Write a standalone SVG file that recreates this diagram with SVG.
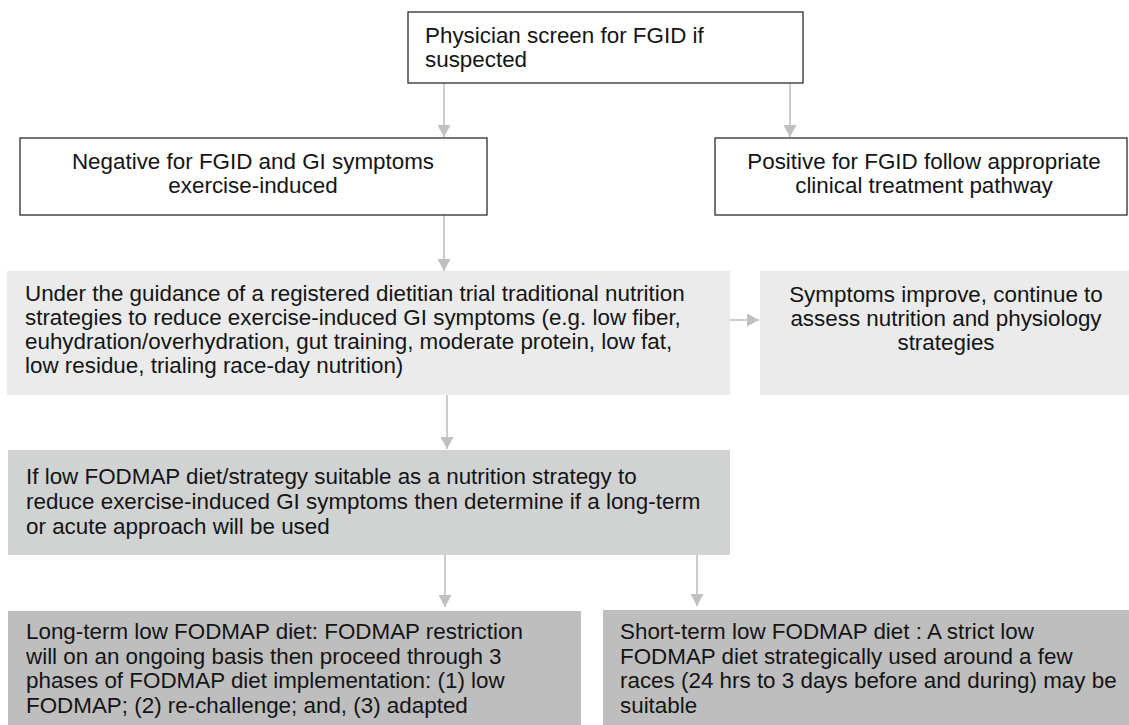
<svg xmlns="http://www.w3.org/2000/svg" width="1129" height="725" viewBox="0 0 1129 725">
<defs>
<style>
text{font-family:"Liberation Sans",Arial,sans-serif;font-size:22.4px;fill:#141414}
.c{text-anchor:middle}
.ob{fill:#fff;stroke:#2b2b2b;stroke-width:1.3}
.l1{fill:#ebebeb}
.l2{fill:#d1d2d2}
.l3{fill:#bebebe}
.ar{stroke:#c0c0c0;stroke-width:1.6;fill:none}
</style>
<marker id="ah" viewBox="0 0 12 13" refX="12" refY="6.5" markerWidth="12" markerHeight="13" markerUnits="userSpaceOnUse" orient="auto">
<path d="M0,0 L12,6.5 L0,13 Z" fill="#c0c0c0"/>
</marker>
</defs>
<g id="connectors">
<line class="ar" x1="444" y1="83" x2="444" y2="137" marker-end="url(#ah)"/>
<line class="ar" x1="790" y1="83" x2="790" y2="137" marker-end="url(#ah)"/>
<line class="ar" x1="444" y1="215" x2="444" y2="271" marker-end="url(#ah)"/>
<line class="ar" x1="730" y1="320" x2="759" y2="320" marker-end="url(#ah)"/>
<line class="ar" x1="447" y1="395" x2="447" y2="449" marker-end="url(#ah)"/>
<line class="ar" x1="445" y1="555" x2="445" y2="607" marker-end="url(#ah)"/>
<line class="ar" x1="697" y1="552" x2="697" y2="606" marker-end="url(#ah)"/>
</g>
<g id="n1">
<rect class="ob" x="408" y="12" width="395" height="71"/>
<text x="425" y="43">Physician screen for FGID if</text>
<text x="425" y="67">suspected</text>
</g>
<g id="n2">
<rect class="ob" x="20" y="138" width="467" height="77"/>
<text class="c" x="253" y="169">Negative for FGID and GI symptoms</text>
<text class="c" x="253" y="193">exercise-induced</text>
</g>
<g id="n3">
<rect class="ob" x="715" y="138" width="412" height="77"/>
<text class="c" x="924" y="169">Positive for FGID follow appropriate</text>
<text class="c" x="924" y="193">clinical treatment pathway</text>
</g>
<g id="n4">
<rect class="l1" x="7" y="271" width="723" height="124"/>
<text x="25" y="301">Under the guidance of a registered dietitian trial traditional nutrition</text>
<text x="25" y="325">strategies to reduce exercise-induced GI symptoms (e.g. low fiber,</text>
<text x="25" y="349">euhydration/overhydration, gut training, moderate protein, low fat,</text>
<text x="25" y="373">low residue, trialing race-day nutrition)</text>
</g>
<g id="n5">
<rect class="l1" x="760" y="271" width="369" height="124"/>
<text class="c" x="946" y="302">Symptoms improve, continue to</text>
<text class="c" x="946" y="326">assess nutrition and physiology</text>
<text class="c" x="946" y="350">strategies</text>
</g>
<g id="n6">
<rect class="l2" x="8" y="450" width="722" height="105"/>
<text x="26" y="484">If low FODMAP diet/strategy suitable as a nutrition strategy to</text>
<text x="26" y="509">reduce exercise-induced GI symptoms then determine if a long-term</text>
<text x="26" y="534">or acute approach will be used</text>
</g>
<g id="n7">
<rect class="l3" x="8" y="611" width="573" height="114"/>
<text x="26" y="639">Long-term low FODMAP diet: FODMAP restriction</text>
<text x="26" y="664">will on an ongoing basis then proceed through 3</text>
<text x="26" y="688">phases of FODMAP diet implementation: (1) low</text>
<text x="26" y="713">FODMAP; (2) re-challenge; and, (3) adapted</text>
</g>
<g id="n8">
<rect class="l3" x="603" y="610" width="526" height="115"/>
<text x="620" y="639">Short-term low FODMAP diet : A strict low</text>
<text x="620" y="664">FODMAP diet strategically used around a few</text>
<text x="620" y="688">races (24 hrs to 3 days before and during) may be</text>
<text x="620" y="713">suitable</text>
</g>
</svg>
